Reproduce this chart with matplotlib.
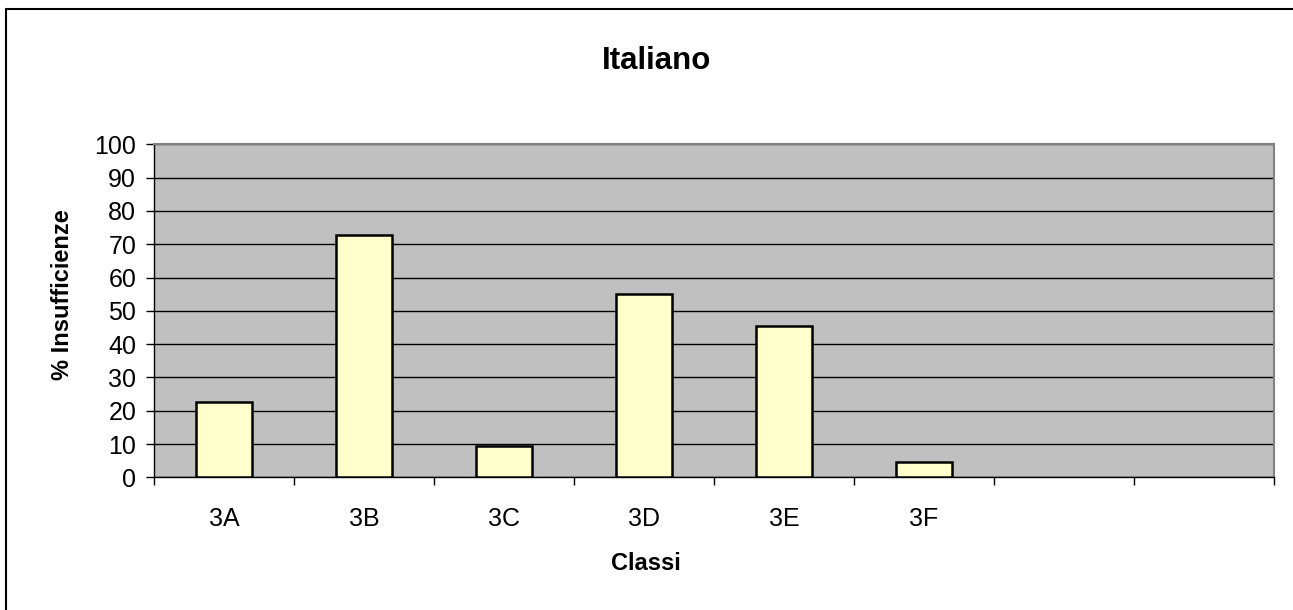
import numpy as np
import matplotlib.pyplot as plt
from matplotlib.patches import Rectangle

# Data
classes = ['3A', '3B', '3C', '3D', '3E', '3F', '', '']
values = [22.7, 72.7, 9.5, 55.0, 45.5, 4.5]
y_ticks = [0, 10, 20, 30, 40, 50, 60, 70, 80, 90, 100]

plt.rcParams['font.family'] = ['Liberation Sans', 'DejaVu Sans']

fig = plt.figure(figsize=(12.93, 6.10), dpi=100)
ax = fig.add_axes([0.1193, 0.2175, 0.8660, 0.5459])

x = np.arange(len(classes))
ax.set_facecolor('#C0C0C0')
ax.set_axisbelow(True)
ax.yaxis.grid(True, color='black', linewidth=1.0)
ax.bar(x[:len(values)], values, width=0.4, color='#FFFFCC',
       edgecolor='black', linewidth=1.8, zorder=3)

ax.set_xlim(-0.5, len(classes) - 0.5)
ax.set_ylim(0, 100)
ax.set_yticks(y_ticks)

# category boundaries as major ticks, labels centred as minor ticks
ax.set_xticks(np.arange(len(classes) + 1) - 0.5)
ax.set_xticklabels([])
ax.set_xticks(x, minor=True)
ax.set_xticklabels(classes, minor=True, fontsize=18)
ax.tick_params(axis='x', which='major', direction='out', length=6,
               width=1, color='black')
ax.tick_params(axis='x', which='minor', length=0, pad=21.5)
ax.tick_params(axis='y', direction='out', length=6, width=1,
               color='black', labelsize=18, pad=7)

for side in ['left', 'bottom']:
    ax.spines[side].set_color('black')
    ax.spines[side].set_linewidth(1.0)
for side in ['top', 'right']:
    ax.spines[side].set_color('#808080')
    ax.spines[side].set_linewidth(1.5)

ax.set_xlabel('Classi', fontsize=17, fontweight='bold')
ax.xaxis.set_label_coords(0.439, -0.26)
ax.xaxis.label.set_va('center')
ax.set_ylabel('% Insufficienze', fontsize=17, fontweight='bold')
ax.yaxis.set_label_coords(-0.0815, 0.548)
ax.yaxis.label.set_va('center')

fig.text(0.508, 0.900, 'Italiano', fontsize=22.5, fontweight='bold',
         ha='center', va='center')

# chart frame (only left and top edges are visible in the image)
fig.patches.append(Rectangle((6 / 1293, -0.1), 1.2, 1 - 9 / 610 + 0.1,
                             transform=fig.transFigure, fill=False,
                             edgecolor='black', linewidth=1.5))

fig.savefig('out.png', dpi=100)
